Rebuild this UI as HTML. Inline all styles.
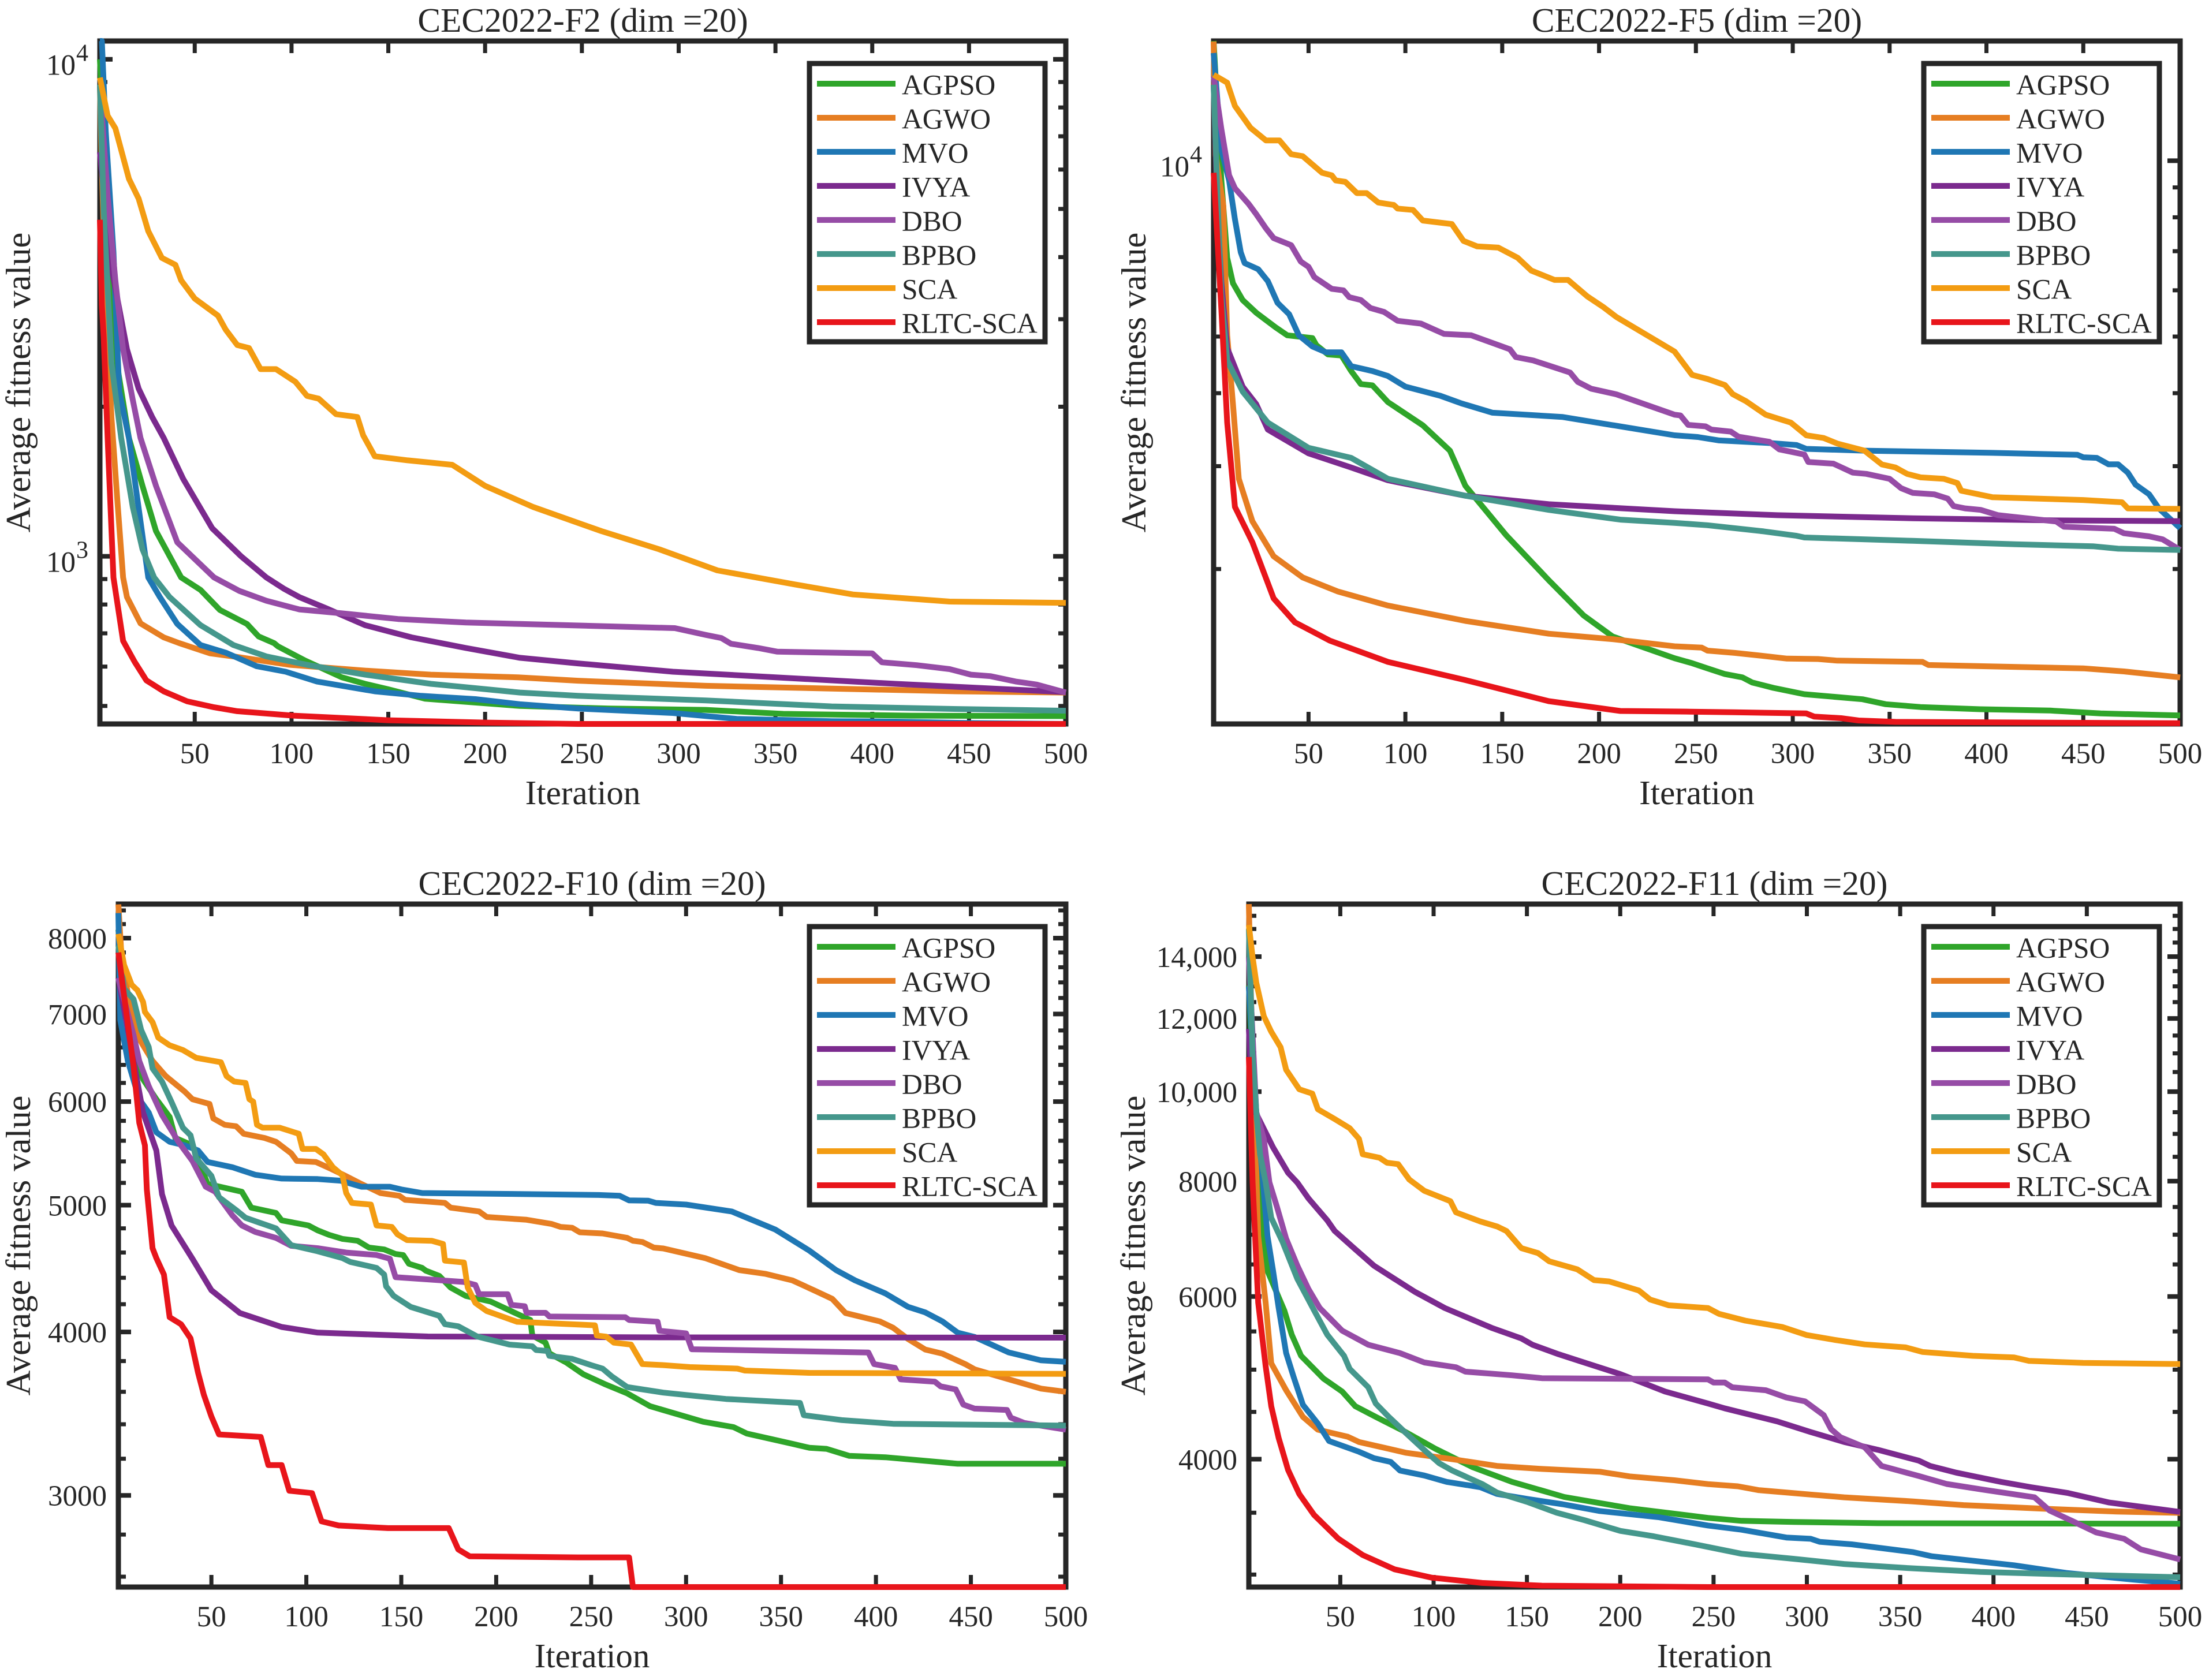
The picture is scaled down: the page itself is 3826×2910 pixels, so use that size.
<!DOCTYPE html>
<html lang="en">
<head>
<meta charset="utf-8">
<title>CEC2022 convergence curves</title>
<style>
html,body{margin:0;padding:0;background:#fff;}
#figure{display:block;width:3826px;height:2910px;background:#fff;}
text{font-family:"Liberation Serif",serif;fill:#262626;}
</style>
</head>
<body>
<svg id="figure" xmlns="http://www.w3.org/2000/svg" width="3826" height="2910" viewBox="0 0 3826 2910"></svg>
<script>
const algorithms = ['AGPSO','AGWO','MVO','IVYA','DBO','BPBO','SCA','RLTC-SCA'];
const xTickValues = [50,100,150,200,250,300,350,400,450,500];

/* CEC2022-F2 */
const f2AgpsoIter=[1,5,10,16,23,30,43,53,63,77,83,91,93,107,126,138,150,169,218,264,314,354,420,500];
const f2AgpsoValue=[10000,4946,2412,1730,1386,1124,907,856,780,731,690,669,659,617,571,554,540,517,500,494,491,482,478,477];
const f2AgwoIter=[1,2,4,7,10,13,15,22,34,42,58,70,99,138,172,217,248,314,379,444,500];
const f2AgwoValue=[8800,6000,3300,1900,1300,907,828,733,687,669,638,629,605,589,578,571,562,549,542,535,532];
const f2MvoIter=[1,2,4,8,11,16,26,32,41,53,66,82,97,113,143,167,195,218,248,297,330,379,412,450,500];
const f2MvoValue=[10885,10885,7170,4093,2145,1730,907,828,731,663,640,601,586,560,535,524,516,504,494,484,471,466,465,462,460];
const f2IvyaIter=[1,7,15,21,28,34,44,59,74,87,96,104,118,138,162,190,218,248,297,346,412,500];
const f2IvyaValue=[6505,3810,2610,2175,1907,1730,1432,1139,1000,907,861,828,786,727,687,654,625,609,586,572,554,533];
const f2DboIter=[1,5,9,13,18,22,30,41,60,73,87,104,126,155,190,218,298,314,322,327,341,351,400,405,423,440,451,461,474,485,500];
const f2DboValue=[8836,5313,3591,2610,2063,1730,1386,1067,907,852,814,782,768,748,736,731,717,695,685,667,654,643,638,612,604,593,578,574,560,552,532];
const f2BpboIter=[1,3,7,12,18,23,29,37,53,70,87,109,138,172,218,248,314,379,444,500];
const f2BpboValue=[8890,4946,2443,1730,1256,1033,907,828,727,663,629,604,578,554,532,524,513,499,493,489];
const f2ScaIter=[1,5,9,16,21,26,33,40,43,50,62,66,72,78,84,92,102,108,114,123,134,137,143,160,183,200,225,260,290,320,360,390,440,500];
const f2ScaValue=[9185,7700,7265,5748,5243,4510,3985,3859,3591,3300,3050,2858,2661,2625,2380,2380,2245,2103,2076,1932,1907,1752,1590,1560,1528,1386,1256,1124,1033,937,878,838,811,806];
const f2RltcIter=[1,2,3,5,8,13,19,25,34,46,60,72,101,150,200,248,500];
const f2RltcValue=[4756,3200,2748,1730,907,676,613,563,535,511,497,488,478,468,463,460,460];
const f2MajorTicks=[1000,10000];
const f2MajorExponents=['3','4'];
const f2MinorTicks=[500,600,700,800,900,2000,3000,4000,5000,6000,7000,8000,9000];

/* CEC2022-F5 */
const f5AgpsoIter=[1,5,8,11,16,23,33,39,52,54,60,67,72,77,83,91,109,123,131,152,174,192,207,239,248,256,265,274,279,290,306,336,348,366,397,433,459,500];
const f5AgpsoValue=[16030,9252,6820,6170,5775,5492,5185,5025,4970,4835,4660,4640,4365,4146,4125,3862,3524,3189,2776,2286,1914,1666,1533,1407,1380,1352,1322,1305,1279,1252,1221,1197,1174,1161,1151,1145,1132,1123];
const f5AgwoIter=[1,2,6,8,11,14,21,32,47,65,91,131,174,207,239,253,256,270,283,297,313,323,367,370,450,471,500];
const f5AgwoValue=[16000,10230,8375,5025,3830,2854,2415,2103,1935,1831,1732,1630,1550,1517,1475,1467,1450,1437,1422,1405,1403,1394,1387,1370,1352,1336,1305];
const f5MvoIter=[1,5,9,12,15,17,24,29,34,40,45,52,59,67,72,83,91,100,118,129,145,181,239,251,262,288,302,307,337,403,447,450,457,463,468,473,477,484,489,500];
const f5MvoValue=[15290,10450,9252,7940,6970,6680,6520,6220,5710,5460,5025,4808,4700,4700,4450,4365,4280,4105,3960,3842,3703,3642,3388,3365,3320,3286,3260,3212,3189,3162,3137,3107,3100,3022,3022,2924,2790,2685,2540,2350];
const f5IvyaIter=[1,3,5,8,16,23,29,50,72,91,131,174,239,292,362,433,500];
const f5IvyaValue=[13490,8190,6205,4780,4105,3830,3465,3155,2985,2838,2670,2582,2512,2473,2443,2423,2415];
const f5DboIter=[1,5,9,12,19,23,28,32,41,46,50,53,62,68,71,77,82,89,96,108,120,134,146,154,157,166,185,189,196,209,239,242,246,255,258,268,272,288,293,306,308,321,331,338,350,356,362,373,380,383,389,397,406,436,440,466,471,484,491,500];
const f5DboValue=[13950,11330,9440,8970,8440,8100,7660,7370,7170,6720,6580,6320,6035,6000,5840,5775,5595,5510,5320,5262,5052,5025,4862,4755,4612,4550,4340,4183,4070,3981,3675,3664,3530,3510,3465,3438,3370,3302,3206,3140,3050,3030,2924,2910,2854,2750,2700,2685,2640,2563,2540,2525,2473,2412,2363,2344,2303,2275,2248,2156];
const f5BpboIter=[1,3,5,8,16,29,50,72,91,131,174,211,239,256,285,302,306,362,415,455,468,500];
const f5BpboValue=[13490,8655,5870,4550,4025,3562,3225,3100,2854,2670,2525,2430,2399,2377,2320,2280,2265,2235,2205,2188,2167,2156];
const f5ScaIter=[1,8,12,20,28,35,41,47,57,62,64,69,75,80,86,94,96,104,109,124,130,137,148,158,165,177,184,194,202,209,239,248,256,265,269,276,286,299,307,316,323,337,346,353,359,366,378,385,387,403,450,470,473,500];
const f5ScaValue=[14030,13600,12410,11390,10830,10830,10260,10180,9534,9440,9252,9200,8800,8800,8480,8400,8280,8235,7900,7790,7290,7135,7100,6820,6485,6250,6250,5855,5623,5400,4713,4300,4230,4130,3985,3873,3675,3562,3388,3352,3280,3189,3020,2985,2910,2870,2854,2806,2723,2655,2625,2602,2540,2535];
const f5RltcIter=[1,5,8,12,21,32,43,61,91,131,174,211,247,270,307,311,325,334,353,500];
const f5RltcValue=[9534,5566,3562,2555,2223,1781,1621,1508,1387,1291,1188,1143,1140,1137,1132,1118,1111,1101,1095,1089];
const f5MajorTicks=[10000];
const f5MajorExponents=['4'];
const f5MinorTicks=[2000,3000,4000,5000,6000,7000,8000,9000];

/* CEC2022-F10 */
const f10AgpsoIter=[1,5,9,14,21,28,31,40,48,66,71,84,87,101,106,112,119,127,133,141,147,151,154,161,163,170,176,184,197,214,218,219,226,228,237,246,257,269,281,309,325,332,356,365,374,386,405,443,500];
const f10AgpsoValue=[8120,6990,6575,6240,6025,5840,5628,5555,5190,5120,4978,4932,4868,4825,4783,4745,4712,4696,4640,4625,4588,4580,4510,4477,4455,4415,4325,4262,4220,4110,4085,3975,3925,3852,3790,3712,3650,3590,3510,3415,3383,3345,3285,3262,3256,3216,3208,3172,3172];
const f10AgwoIter=[1,3,5,8,12,19,26,36,40,49,51,57,63,67,78,84,92,95,105,113,120,129,139,149,152,173,176,191,195,216,229,234,240,244,256,269,272,277,283,288,310,328,342,356,368,377,384,402,409,417,426,435,447,452,470,487,500];
const f10AgwoValue=[8490,7600,7390,7000,6700,6445,6275,6105,6025,5975,5825,5760,5745,5670,5628,5590,5478,5405,5395,5330,5270,5190,5108,5083,5047,5020,4978,4945,4897,4873,4838,4812,4805,4767,4757,4720,4696,4686,4640,4633,4555,4460,4430,4380,4300,4240,4135,4075,4030,3950,3878,3850,3780,3745,3680,3620,3600];
const f10MvoIter=[1,2,6,12,17,21,28,36,43,48,61,73,87,106,118,129,144,150,161,205,254,265,270,280,284,300,324,347,365,379,389,405,417,426,435,443,452,470,487,500];
const f10MvoValue=[8360,6925,6445,6025,5885,5685,5590,5555,5505,5395,5345,5275,5240,5235,5220,5165,5165,5140,5108,5100,5090,5083,5042,5040,5020,5005,4945,4790,4615,4460,4380,4280,4180,4140,4075,3995,3965,3858,3805,3795];
const f10IvyaIter=[1,9,14,21,24,29,40,50,65,87,106,164,288,500];
const f10IvyaValue=[7460,6445,5885,5505,5098,4825,4550,4305,4135,4035,3995,3968,3962,3960];
const f10DboIter=[1,9,12,17,24,33,40,47,52,61,66,73,84,92,106,121,137,144,147,183,189,191,206,208,215,216,226,228,268,270,285,286,300,303,396,399,410,413,431,434,442,446,452,469,471,478,500];
const f10DboValue=[7460,6745,6445,6165,5860,5580,5405,5165,5120,4912,4825,4770,4720,4655,4635,4600,4580,4550,4405,4368,4345,4275,4275,4195,4185,4137,4137,4110,4105,4085,4072,4008,3990,3880,3858,3780,3755,3680,3665,3635,3615,3520,3495,3487,3440,3408,3368];
const f10BpboIter=[1,4,9,13,17,19,24,29,35,39,42,50,54,63,68,75,84,92,106,119,123,137,141,142,146,155,170,173,180,190,207,219,221,227,228,240,250,256,261,269,288,304,321,360,362,382,409,500];
const f10BpboValue=[7900,7320,7185,6805,6605,6360,6215,5995,5730,5655,5430,5265,5070,4957,4890,4850,4800,4660,4610,4555,4525,4477,4425,4335,4262,4180,4115,4055,4040,3968,3912,3900,3875,3868,3835,3815,3773,3750,3698,3630,3595,3575,3555,3530,3455,3425,3403,3392];
const f10ScaIter=[1,4,8,11,14,15,19,22,28,35,42,55,58,62,68,70,72,74,77,86,96,98,105,109,114,119,121,124,134,137,145,148,153,166,172,173,183,185,189,195,211,252,253,258,262,271,277,288,302,327,331,365,500];
const f10ScaValue=[8060,7630,7370,7300,7150,7025,6900,6715,6625,6570,6480,6430,6275,6215,6200,6025,6000,5760,5730,5730,5670,5520,5520,5468,5345,5270,5108,5020,5005,4825,4812,4750,4702,4696,4670,4535,4520,4325,4210,4150,4072,4047,3975,3967,3925,3912,3780,3773,3760,3750,3737,3722,3715];
const f10RltcIter=[1,5,9,12,15,16,19,21,25,28,34,39,43,46,50,54,76,80,87,91,103,108,117,143,175,180,186,243,270,272,500];
const f10RltcValue=[7800,7050,6385,5780,5555,5140,4635,4555,4425,4105,4055,3955,3722,3582,3447,3340,3325,3164,3164,3025,3012,2866,2845,2832,2832,2728,2695,2690,2690,2553,2553];
const f10MajorTicks=[3000,4000,5000,6000,7000,8000];
const f10MajorLabels=['3000','4000','5000','6000','7000','8000'];
const f10MinorTicks=[2600,2800,3200,3400,3600,3800,4200,4400,4600,4800,5200,5400,5600,5800,6200,6400,6600,6800,7200,7400,7600,7800,8200,8400];

/* CEC2022-F11 */
const f11AgpsoIter=[1,3,5,7,11,20,24,29,41,51,58,69,84,101,121,142,170,205,247,265,293,338,500];
const f11AgpsoValue=[13030,10560,8555,7455,6395,5795,5455,5175,4890,4735,4565,4445,4290,4105,3920,3780,3640,3540,3455,3430,3420,3410,3405];
const f11AgwoIter=[1,2,6,10,13,21,30,38,54,60,76,85,110,134,158,189,205,229,247,263,274,302,320,357,384,430,466,500];
const f11AgwoValue=[15960,13000,6975,5910,5080,4750,4445,4305,4230,4175,4105,4065,4000,3933,3904,3877,3832,3795,3759,3738,3703,3662,3637,3600,3567,3533,3510,3499];
const f11MvoIter=[1,5,8,11,14,17,21,25,30,38,44,60,68,77,82,95,107,125,134,151,169,189,221,247,265,289,302,307,324,357,367,411,439,475,500];
const f11MvoValue=[13000,9505,8260,6975,6395,5830,5210,4910,4580,4370,4185,4075,4010,3973,3888,3840,3780,3730,3668,3620,3575,3515,3460,3390,3355,3290,3280,3255,3235,3172,3140,3070,3012,2962,2932];
const f11IvyaIter=[1,3,9,14,22,27,33,43,47,58,68,90,106,131,147,153,167,178,200,224,247,256,284,302,320,338,360,366,380,404,420,440,462,500];
const f11IvyaValue=[11690,9640,9115,8700,8170,7970,7660,7255,7065,6750,6480,6070,5830,5550,5405,5320,5195,5110,4945,4735,4595,4540,4395,4280,4175,4095,3985,3933,3868,3780,3730,3676,3590,3507];
const f11DboIter=[1,5,9,12,16,21,27,33,39,51,65,82,95,112,117,142,158,247,250,256,260,278,289,299,309,313,318,331,340,360,375,397,422,430,442,455,470,479,500];
const f11DboValue=[13980,9505,8890,7975,7510,6930,6480,6110,5830,5510,5320,5210,5090,5030,4975,4930,4895,4880,4842,4842,4785,4750,4665,4620,4465,4310,4225,4120,3933,3835,3760,3700,3637,3520,3430,3332,3280,3194,3115];
const f11BpboIter=[1,3,5,7,10,13,19,27,36,43,52,55,65,69,76,84,92,96,103,110,126,134,150,166,181,200,218,240,265,293,320,353,393,442,500];
const f11BpboValue=[14995,10940,9505,8555,7975,7300,6880,6270,5795,5455,5175,5010,4785,4595,4445,4290,4145,4075,3960,3888,3760,3680,3597,3500,3435,3345,3300,3235,3160,3120,3080,3050,3020,3000,2980];
const f11ScaIter=[1,3,5,9,13,18,21,28,35,38,47,55,60,62,71,75,81,87,95,109,112,125,134,139,147,156,162,177,186,194,210,216,226,247,253,267,287,300,315,331,353,362,389,411,419,448,500];
const f11ScaValue=[15150,13980,13120,12070,11610,11170,10560,10060,9950,9570,9340,9130,8890,8555,8480,8375,8345,8030,7810,7610,7400,7235,7145,7065,6770,6685,6550,6420,6250,6230,6090,5955,5870,5830,5745,5650,5560,5450,5385,5325,5285,5225,5175,5155,5110,5085,5070];
const f11RltcIter=[1,3,6,10,13,17,22,28,36,49,62,79,99,126,158,247,500];
const f11RltcValue=[10900,7975,5910,5045,4565,4215,3895,3668,3480,3280,3150,3040,2977,2938,2918,2908,2908];
const f11MajorTicks=[4000,6000,8000,10000,12000,14000];
const f11MajorLabels=['4000','6000','8000','10,000','12,000','14,000'];
const f11MinorTicks=[3000,3500,4500,5000,5500,6500,7000,7500,8500,9000,9500,10500,11000,11500,12500,13000,13500,14500,15000,15500];

const seriesColors = ['#2fa52a','#e67e22','#1f77b4','#7b2a8e','#964ca6','#45978c','#f39c12','#e8151b'];

const SVGNS = 'http://www.w3.org/2000/svg';
const figure = document.getElementById('figure');
function make(tag, parent){
  const n = document.createElementNS(SVGNS, tag);
  parent.appendChild(n);
  return n;
}
function drawText(parent, name, str, x, y, size, anchor){
  const t = make('text', parent);
  
  
  t.setAttribute('x', x);
  t.setAttribute('y', y);
  t.setAttribute('font-size', size);
  t.setAttribute('text-anchor', anchor);
  t.textContent = str;
  return t;
}
function drawSeg(parent, name, x1, y1, x2, y2, width){
  const l = make('line', parent);
  
  
  l.setAttribute('x1', x1);
  l.setAttribute('y1', y1);
  l.setAttribute('x2', x2);
  l.setAttribute('y2', y2);
  l.setAttribute('stroke', '#262626');
  l.setAttribute('stroke-width', width);
  return l;
}

function drawPanel(p){
  const g = make('g', figure);
  
  

  const logMin = Math.log10(p.yMin), logMax = Math.log10(p.yMax);
  const X = i => p.left + (i - 1) / 499 * (p.right - p.left);
  const Y = v => p.bottom - (Math.log10(v) - logMin) / (logMax - logMin) * (p.bottom - p.top);

  /* frame */
  const frame = make('rect', g);
  
  
  frame.setAttribute('x', p.left);
  frame.setAttribute('y', p.top);
  frame.setAttribute('width', p.right - p.left);
  frame.setAttribute('height', p.bottom - p.top);
  frame.setAttribute('fill', 'none');
  frame.setAttribute('stroke', '#262626');
  frame.setAttribute('stroke-width', 9);

  /* x ticks */
  xTickValues.forEach(t => {
    const x = X(t);
    if (t < 500) {
      drawSeg(g, p.id + '-x-tick-' + t, x, p.bottom, x, p.bottom - 21, 7);
      drawSeg(g, p.id + '-x-tick-top-' + t, x, p.top, x, p.top + 21, 7);
    }
    drawText(g, p.id + '-x-tick-label-' + t, String(t), x, p.bottom + 68, 51, 'middle');
  });

  /* y ticks */
  p.minor.forEach(v => {
    const y = Y(v);
    drawSeg(g, p.id + '-y-minor-tick-' + v, p.left, y, p.left + 13, y, 7);
    drawSeg(g, p.id + '-y-minor-tick-right-' + v, p.right, y, p.right - 13, y, 7);
  });
  p.major.forEach((v, k) => {
    const y = Y(v);
    drawSeg(g, p.id + '-y-major-tick-' + v, p.left, y, p.left + 22, y, 8);
    drawSeg(g, p.id + '-y-major-tick-right-' + v, p.right, y, p.right - 22, y, 8);
    if (p.exponents) {
      drawText(g, p.id + '-y-tick-label-' + v, '10', p.left - 42, y + 27, 51, 'end');
      drawText(g, p.id + '-y-tick-exponent-' + v, p.exponents[k], p.left - 20, y + 3, 42, 'end');
    } else {
      drawText(g, p.id + '-y-tick-label-' + v, p.labels[k], p.left - 20, y + 18, 51, 'end');
    }
  });

  /* labels */
  drawText(g, p.id + '-title', p.title, (p.left + p.right) / 2, p.top - 16, 59.5, 'middle');
  drawText(g, p.id + '-x-axis-title', 'Iteration', (p.left + p.right) / 2, p.bottom + 139, 59, 'middle');
  const yTitle = drawText(g, p.id + '-y-axis-title', 'Average fitness value', 0, 0, 60.5, 'middle');
  yTitle.setAttribute('transform', 'translate(' + p.yTitleX + ' ' + (p.top + p.bottom) / 2 + ') rotate(-90)');

  /* series */
  const clipId = p.id + '-clip';
  const defs = make('defs', g);
  const clip = make('clipPath', defs);
  clip.setAttribute('id', clipId);
  const cr = make('rect', clip);
  cr.setAttribute('x', p.left - 5);
  cr.setAttribute('y', p.top - 5);
  cr.setAttribute('width', p.right - p.left + 10);
  cr.setAttribute('height', p.bottom - p.top + 10);

  algorithms.forEach((name, k) => {
    const iters = p.iters[k], vals = p.values[k];
    let d = '';
    iters.forEach((it, j) => {
      d += (j ? 'L' : 'M') + X(it).toFixed(1) + ' ' + Y(vals[j]).toFixed(1);
    });
    const path = make('path', g);
    
    
    path.setAttribute('d', d);
    path.setAttribute('fill', 'none');
    path.setAttribute('stroke', seriesColors[k]);
    path.setAttribute('stroke-width', 10);
    path.setAttribute('stroke-linejoin', 'round');
    path.setAttribute('clip-path', 'url(#' + clipId + ')');
  });

  /* legend */
  const lg = make('g', g);
  
  
  const lx = p.right - 444, ly = p.top + 39;
  const box = make('rect', lg);
  
  
  box.setAttribute('x', lx);
  box.setAttribute('y', ly);
  box.setAttribute('width', 408);
  box.setAttribute('height', 482);
  box.setAttribute('fill', '#fff');
  box.setAttribute('stroke', '#262626');
  box.setAttribute('stroke-width', 9);
  algorithms.forEach((name, k) => {
    const ey = ly + 35 + k * 59;
    const sw = make('line', lg);
    
    
    sw.setAttribute('x1', lx + 13);
    sw.setAttribute('x2', lx + 149);
    sw.setAttribute('y1', ey);
    sw.setAttribute('y2', ey);
    sw.setAttribute('stroke', seriesColors[k]);
    sw.setAttribute('stroke-width', 10);
    drawText(lg, p.id + '-legend-entry-' + name.toLowerCase(), name, lx + 160, ey + 18.5, 49.5, 'start');
  });
}

drawPanel({id:'f2', title:'CEC2022-F2 (dim =20)', left:173, right:1846, top:71, bottom:1254, yMin:460, yMax:10885, yTitleX:52,
  major:f2MajorTicks, exponents:f2MajorExponents, minor:f2MinorTicks,
  iters:[f2AgpsoIter,f2AgwoIter,f2MvoIter,f2IvyaIter,f2DboIter,f2BpboIter,f2ScaIter,f2RltcIter],
  values:[f2AgpsoValue,f2AgwoValue,f2MvoValue,f2IvyaValue,f2DboValue,f2BpboValue,f2ScaValue,f2RltcValue]});
drawPanel({id:'f5', title:'CEC2022-F5 (dim =20)', left:2102, right:3776, top:71, bottom:1254, yMin:1086, yMax:16030, yTitleX:1984,
  major:f5MajorTicks, exponents:f5MajorExponents, minor:f5MinorTicks,
  iters:[f5AgpsoIter,f5AgwoIter,f5MvoIter,f5IvyaIter,f5DboIter,f5BpboIter,f5ScaIter,f5RltcIter],
  values:[f5AgpsoValue,f5AgwoValue,f5MvoValue,f5IvyaValue,f5DboValue,f5BpboValue,f5ScaValue,f5RltcValue]});
drawPanel({id:'f10', title:'CEC2022-F10 (dim =20)', left:205, right:1846, top:1566, bottom:2749, yMin:2553, yMax:8494, yTitleX:52,
  major:f10MajorTicks, labels:f10MajorLabels, minor:f10MinorTicks,
  iters:[f10AgpsoIter,f10AgwoIter,f10MvoIter,f10IvyaIter,f10DboIter,f10BpboIter,f10ScaIter,f10RltcIter],
  values:[f10AgpsoValue,f10AgwoValue,f10MvoValue,f10IvyaValue,f10DboValue,f10BpboValue,f10ScaValue,f10RltcValue]});
drawPanel({id:'f11', title:'CEC2022-F11 (dim =20)', left:2163, right:3776, top:1566, bottom:2749, yMin:2908, yMax:15960, yTitleX:1983,
  major:f11MajorTicks, labels:f11MajorLabels, minor:f11MinorTicks,
  iters:[f11AgpsoIter,f11AgwoIter,f11MvoIter,f11IvyaIter,f11DboIter,f11BpboIter,f11ScaIter,f11RltcIter],
  values:[f11AgpsoValue,f11AgwoValue,f11MvoValue,f11IvyaValue,f11DboValue,f11BpboValue,f11ScaValue,f11RltcValue]});
</script>
</body>
</html>
